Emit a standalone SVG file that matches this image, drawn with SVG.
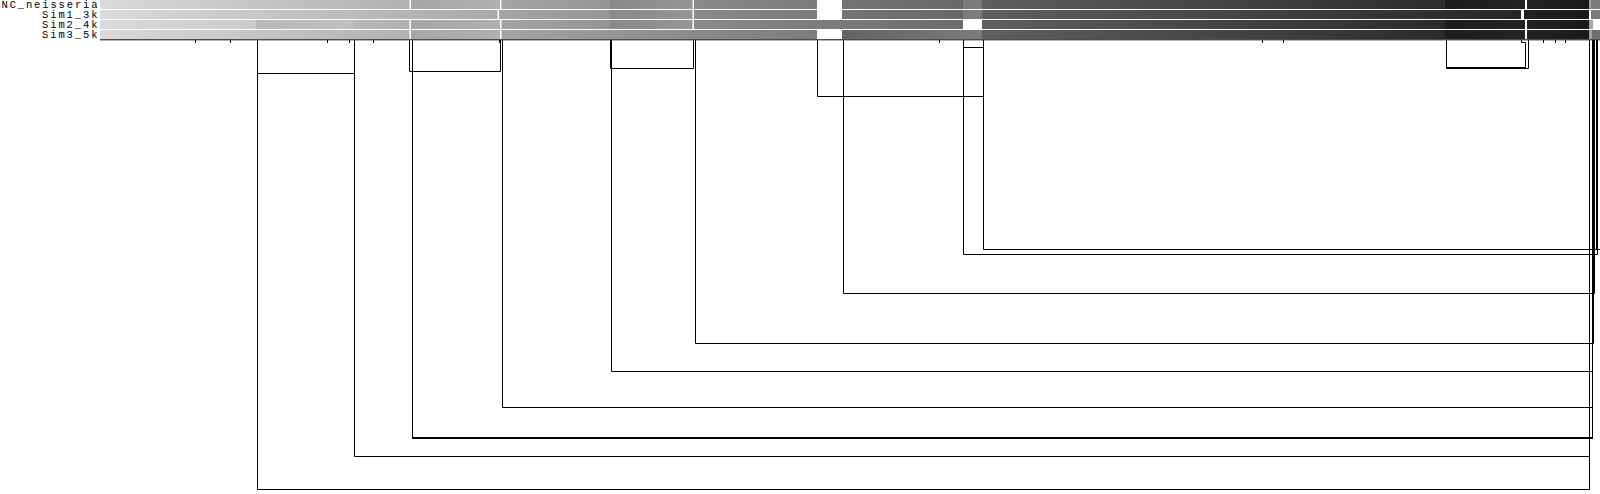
<svg xmlns="http://www.w3.org/2000/svg" width="1600" height="494" viewBox="0 0 1600 494">
<style>
.lbl{font-family:"Liberation Mono","DejaVu Sans Mono",monospace;font-size:10.5px;fill:#000}
.c{fill:none;stroke:#000;stroke-width:1}
</style>
<defs>
<linearGradient id="g1"><stop offset="0" stop-color="#dadada"/><stop offset="1" stop-color="#b1b1b1"/></linearGradient>
<linearGradient id="g1b"><stop offset="0" stop-color="#dadada"/><stop offset="1" stop-color="#a9a9a9"/></linearGradient>
<linearGradient id="g2"><stop offset="0" stop-color="#a6a6a6"/><stop offset="1" stop-color="#b0b0b0"/></linearGradient>
<linearGradient id="g3"><stop offset="0" stop-color="#a4a4a4"/><stop offset="1" stop-color="#959595"/></linearGradient>
<linearGradient id="g4"><stop offset="0" stop-color="#898989"/><stop offset="1" stop-color="#959595"/></linearGradient>
<linearGradient id="g5"><stop offset="0" stop-color="#8a8a8a"/><stop offset="1" stop-color="#7b7b7b"/></linearGradient>
<linearGradient id="g5c"><stop offset="0" stop-color="#8a8a8a"/><stop offset="1" stop-color="#6c6c6c"/></linearGradient>
<linearGradient id="g5d"><stop offset="0" stop-color="#a4a4a4"/><stop offset="1" stop-color="#7b7b7b"/></linearGradient>
<linearGradient id="g6"><stop offset="0" stop-color="#747474"/><stop offset="1" stop-color="#686868"/></linearGradient>
<linearGradient id="g6d"><stop offset="0" stop-color="#636363"/><stop offset="1" stop-color="#7c7c7c"/></linearGradient>
<linearGradient id="g8"><stop offset="0" stop-color="#5f5f5f"/><stop offset="1" stop-color="#2b2b2b"/></linearGradient>
<linearGradient id="g8b"><stop offset="0" stop-color="#5f5f5f"/><stop offset="1" stop-color="#262626"/></linearGradient>
<linearGradient id="g9"><stop offset="0" stop-color="#1c1c1c"/><stop offset="1" stop-color="#242424"/></linearGradient>
<linearGradient id="g10"><stop offset="0" stop-color="#222222"/><stop offset="1" stop-color="#1a1a1a"/></linearGradient>
<linearGradient id="g3a"><stop offset="0" stop-color="#dadada"/><stop offset="1" stop-color="#cbcbcb"/></linearGradient>
<linearGradient id="g3b"><stop offset="0" stop-color="#bababa"/><stop offset="1" stop-color="#c0c0c0"/></linearGradient>
<linearGradient id="g3c"><stop offset="0" stop-color="#b8b8b8"/><stop offset="1" stop-color="#b1b1b1"/></linearGradient>
</defs>
<rect width="1600" height="494" fill="#fff"/>
<g id="labels">
<text class="lbl" x="1.5" y="8" textLength="96" lengthAdjust="spacing">NC_neisseria</text>
<text class="lbl" x="42" y="18" textLength="55.5" lengthAdjust="spacing">Sim1_3k</text>
<text class="lbl" x="42" y="28" textLength="55.5" lengthAdjust="spacing">Sim2_4k</text>
<text class="lbl" x="42" y="38" textLength="55.5" lengthAdjust="spacing">Sim3_5k</text>
</g>
<g id="track-NC_neisseria">
<rect x="100" y="0" width="309.5" height="9" fill="url(#g1)"/>
<rect x="411" y="0" width="89" height="9" fill="url(#g2)"/>
<rect x="501.5" y="0" width="108.5" height="9" fill="url(#g3)"/>
<rect x="610" y="0" width="82.5" height="9" fill="url(#g4)"/>
<rect x="694" y="0" width="123" height="9" fill="url(#g5)"/>
<rect x="842" y="0" width="121" height="9" fill="url(#g6)"/>
<rect x="963" y="0" width="19" height="9" fill="#7c7c7c"/>
<rect x="982" y="0" width="463" height="9" fill="url(#g8)"/>
<rect x="1445" y="0" width="80" height="9" fill="url(#g9)"/>
<rect x="1527" y="0" width="62" height="9" fill="url(#g10)"/>
<rect x="1589" y="0" width="2" height="9" fill="#a0a0a0"/>
<rect x="1591" y="0" width="9" height="9" fill="#7c7c7c"/>
</g>
<g id="track-Sim1_3k">
<rect x="100" y="10" width="397.5" height="9" fill="url(#g1b)"/>
<rect x="499" y="10" width="111" height="9" fill="url(#g3)"/>
<rect x="610" y="10" width="82.5" height="9" fill="url(#g4)"/>
<rect x="694" y="10" width="123" height="9" fill="url(#g5)"/>
<rect x="842" y="10" width="121" height="9" fill="url(#g6)"/>
<rect x="963" y="10" width="19" height="9" fill="#7c7c7c"/>
<rect x="982" y="10" width="539" height="9" fill="url(#g8b)"/>
<rect x="1524" y="10" width="65" height="9" fill="url(#g10)"/>
<rect x="1591" y="10" width="9" height="9" fill="#7a7a7a"/>
</g>
<g id="track-Sim2_4k">
<rect x="100" y="20" width="156" height="9" fill="url(#g3a)"/>
<rect x="256" y="20" width="97" height="9" fill="url(#g3b)"/>
<rect x="353" y="20" width="56.5" height="9" fill="url(#g3c)"/>
<rect x="411" y="20" width="89" height="9" fill="url(#g2)"/>
<rect x="501.5" y="20" width="108.5" height="9" fill="url(#g3)"/>
<rect x="610" y="20" width="82.5" height="9" fill="url(#g4)"/>
<rect x="694" y="20" width="269" height="9" fill="url(#g5c)"/>
<rect x="982" y="20" width="463" height="9" fill="url(#g8)"/>
<rect x="1445" y="20" width="80" height="9" fill="url(#g9)"/>
<rect x="1527" y="20" width="62" height="9" fill="url(#g10)"/>
<rect x="1589" y="20" width="4" height="9" fill="#a8a8a8"/>
</g>
<g id="track-Sim3_5k">
<rect x="100" y="30" width="309.5" height="9" fill="url(#g1)"/>
<rect x="411" y="30" width="89" height="9" fill="url(#g2)"/>
<rect x="501.5" y="30" width="315.5" height="9" fill="url(#g5d)"/>
<rect x="842" y="30" width="140" height="9" fill="url(#g6d)"/>
<rect x="982" y="30" width="463" height="9" fill="url(#g8)"/>
<rect x="1445" y="30" width="80" height="9" fill="url(#g9)"/>
<rect x="1527" y="30" width="62" height="9" fill="url(#g10)"/>
<rect x="1589" y="30" width="3" height="9" fill="#a0a0a0"/>
<rect x="1592" y="30" width="8" height="9" fill="#6e6e6e"/>
</g>
<g id="connectors">
<path class="c" d="M100 39.8H1600"/>
<path class="c" d="M195.5 40V43M230.5 40V43M327.5 40V43M349.5 40V43M373.5 40V43M499.5 40V43M939.5 40V43M1262.5 40V43M1283.5 40V43M1543.5 40V43M1555.5 40V43M1565.5 40V43"/>
<path class="c" d="M257.5 40V489.5H1589.5V40"/>
<path class="c" d="M354.5 40V456.5H1589.5"/>
<path class="c" d="M412.5 40V438M1592.5 438V40"/>
<path class="c" d="M412 438H1593" style="stroke-width:2"/>
<path class="c" d="M502.5 40V407.5H1592.5"/>
<path class="c" d="M611.5 40V371.5H1592.5"/>
<path class="c" d="M695.5 40V343.5H1593.5V40"/>
<path class="c" d="M843.5 40V293.5H1594.5V40"/>
<path class="c" d="M963.5 40V254.5H1597.5V40"/>
<path class="c" d="M983.5 40V249.5H1600M1596.5 40V249.5"/>
<path class="c" d="M257.5 73.5H354.5"/>
<path class="c" d="M409.5 40V71.5H500.5V40"/>
<path class="c" d="M610.5 40V68.5H693.5V40"/>
<path class="c" d="M817.5 40V96.5H983.5"/>
<path class="c" d="M963.5 47.5H983.5"/>
<path class="c" d="M1446.5 40V68.5H1528.5V40"/>
<path class="c" d="M1446.5 67.5H1525.5V42.5H1521.5V40"/>
</g>
</svg>
